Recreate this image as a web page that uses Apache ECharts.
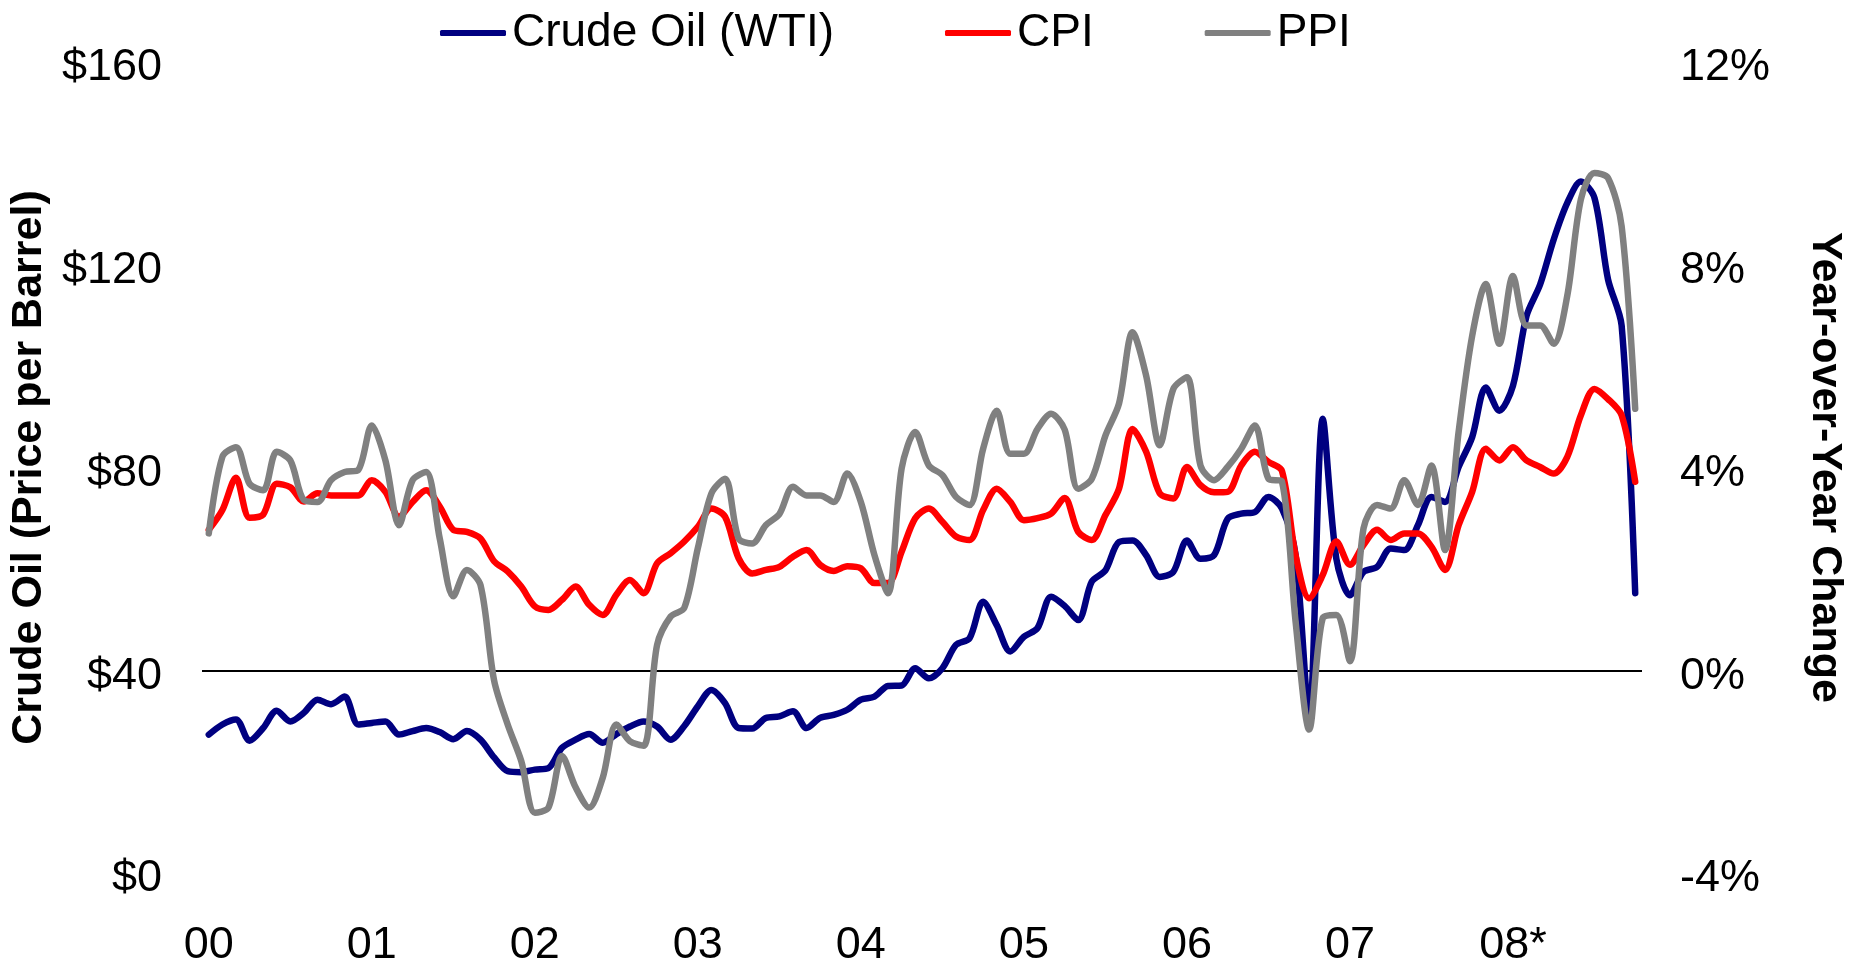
<!DOCTYPE html>
<html>
<head>
<meta charset="utf-8">
<title>Crude Oil vs CPI / PPI</title>
<script src="https://cdn.jsdelivr.net/npm/echarts@6/dist/echarts.min.js"></script>
<style>
    html, body { margin: 0; padding: 0; background: #fff; }
    #chart-id { width: 1854px; height: 968px; }
</style>
</head>
<body>
<div id="chart-id"></div>
<script>
// monthly, Jan 2000 .. Oct 2008
var yearLabels = ['00', '01', '02', '03', '04', '05', '06', '07', '08*'];

var wtiData = [27.3, 29.3, 30.3, 26.1, 28.6, 32.0, 29.9, 31.6, 34.2, 33.3, 34.8, 29.3,
    29.6, 29.9, 27.3, 28.0, 28.6, 27.8, 26.4, 28.0, 26.3, 22.8, 20.1, 19.9,
    20.4, 20.7, 24.7, 26.3, 27.4, 25.7, 27.4, 28.9, 29.9, 28.9, 26.3, 29.0,
    32.9, 36.1, 33.5, 28.6, 28.5, 30.6, 30.9, 31.9, 28.6, 30.6, 31.2, 32.2,
    34.2, 34.8, 36.9, 37.0, 40.4, 38.4, 40.4, 45.0, 46.3, 53.5, 48.9, 43.7,
    46.6, 48.3, 54.5, 52.7, 49.9, 57.5, 59.7, 65.3, 65.6, 62.7, 58.4, 59.4,
    65.6, 62.0, 62.7, 69.9, 70.9, 71.2, 74.2, 71.9, 62.7, 30.6, 89.6, 62.0,
    54.8, 59.4, 60.4, 64.0, 63.7, 68.6, 74.2, 73.2, 80.1, 86.0, 95.8, 91.2,
    96.1, 109.9, 116.1, 125.0, 132.2, 136.4, 133.2, 117.1, 108.0, 55.2];

var cpiData = [2.77, 3.16, 3.80, 3.01, 3.07, 3.68, 3.61, 3.33, 3.49, 3.45, 3.45, 3.45,
    3.75, 3.52, 3.03, 3.32, 3.55, 3.23, 2.77, 2.73, 2.60, 2.15, 1.95, 1.65,
    1.26, 1.19, 1.39, 1.65, 1.29, 1.09, 1.49, 1.78, 1.52, 2.11, 2.31, 2.54,
    2.83, 3.19, 3.03, 2.21, 1.91, 1.98, 2.04, 2.24, 2.37, 2.08, 1.96, 2.05,
    2.01, 1.72, 1.72, 2.34, 3.00, 3.19, 2.93, 2.64, 2.57, 3.16, 3.58, 3.32,
    2.96, 3.00, 3.09, 3.40, 2.73, 2.57, 3.06, 3.58, 4.76, 4.31, 3.49, 3.39,
    4.01, 3.65, 3.51, 3.52, 4.04, 4.31, 4.11, 3.93, 2.27, 1.42, 1.88, 2.54,
    2.08, 2.47, 2.77, 2.57, 2.70, 2.70, 2.44, 1.98, 2.86, 3.52, 4.37, 4.14,
    4.40, 4.14, 4.01, 3.88, 4.21, 5.03, 5.55, 5.35, 5.03, 3.72];

var ppiData = [2.70, 4.21, 4.40, 3.68, 3.55, 4.31, 4.14, 3.36, 3.32, 3.75, 3.91, 3.95,
    4.83, 4.14, 2.86, 3.75, 3.91, 2.60, 1.46, 1.98, 1.68, -0.20, -1.07, -1.79,
    -2.81, -2.71, -1.69, -2.31, -2.71, -2.12, -1.07, -1.40, -1.49, 0.50, 1.06, 1.23,
    2.41, 3.49, 3.78, 2.60, 2.50, 2.86, 3.08, 3.62, 3.45, 3.45, 3.32, 3.88,
    3.32, 2.27, 1.52, 3.98, 4.70, 4.04, 3.85, 3.42, 3.26, 4.37, 5.12, 4.27,
    4.27, 4.76, 5.06, 4.75, 3.58, 3.78, 4.63, 5.26, 6.67, 5.81, 4.44, 5.55,
    5.78, 4.04, 3.75, 4.01, 4.37, 4.83, 3.78, 3.72, 0.96, -1.17, 1.03, 1.09,
    0.18, 2.80, 3.26, 3.19, 3.75, 3.26, 4.04, 2.37, 4.70, 6.60, 7.62, 6.44,
    7.78, 6.80, 6.80, 6.44, 7.39, 9.29, 9.81, 9.71, 8.76, 5.16];

var months = [];
for (var i = 0; i < wtiData.length; i++) {
    var yr = 2000 + Math.floor(i / 12);
    var mo = (i % 12) + 1;
    months.push(yr + '-' + (mo < 10 ? '0' + mo : mo));
}

var FONT = 'Liberation Sans, Arial, sans-serif';

var dom = document.getElementById('chart-id');
var myChart = echarts.init(dom, null, { renderer: 'canvas' });
var option;

function lineSeries(name, data, color, axisIdx) {
    return {
        name: name,
        type: 'line',
        yAxisIndex: axisIdx,
        data: data,
        showSymbol: false,
        smooth: 0.3,
        color: color,
        lineStyle: { width: 6.5, color: color, cap: 'round', join: 'round' }
    };
}

var wtiSeries = lineSeries('Crude Oil (WTI)', wtiData, '#000080', 0);
// the 0% / $40 line
wtiSeries.markLine = {
    silent: true,
    z: 1,
    symbol: 'none',
    label: { show: false },
    lineStyle: { type: 'solid', color: '#000', width: 2 },
    data: [{ yAxis: 40 }]
};

// excel puts the value labels a few px under the tick
var yLabelBase = {
    fontSize: 45,
    color: '#000',
    fontFamily: FONT,
    verticalAlign: 'top',
    lineHeight: 12
};

option = {
    backgroundColor: '#fff',
    animation: false,
    textStyle: { fontFamily: FONT, color: '#000' },
    legend: {
        left: 435,
        top: 5,
        itemGap: 111,
        itemWidth: 66,
        itemHeight: 6,
        icon: 'roundRect',
        textStyle: { fontSize: 46, color: '#000', fontFamily: FONT, padding: [0, 0, 0, 1] },
        data: ['Crude Oil (WTI)', 'CPI', 'PPI']
    },
    grid: {
        left: 199,
        right: 209,
        top: 62,
        bottom: 92.5
    },
    xAxis: {
        type: 'category',
        data: months,
        boundaryGap: true,
        axisLine: { show: false },
        axisTick: { show: false },
        splitLine: { show: false },
        axisLabel: {
            interval: 11,
            margin: 50,
            fontSize: 45,
            color: '#000',
            fontFamily: FONT,
            formatter: function (value, index) {
                return yearLabels[Math.floor(index / 12)];
            }
        }
    },
    yAxis: [
        {
            type: 'value',
            min: 0,
            max: 160,
            interval: 40,
            name: 'Crude Oil (Price per Barrel)',
            nameLocation: 'middle',
            nameGap: 128,
            nameTextStyle: { fontSize: 43, fontWeight: 'bold', color: '#000', fontFamily: FONT },
            axisLine: { show: false },
            axisTick: { show: false },
            splitLine: { show: false },
            axisLabel: Object.assign({
                margin: 40,
                formatter: function (v) { return '$' + v; }
            }, yLabelBase)
        },
        {
            type: 'value',
            min: -4,
            max: 12,
            interval: 4,
            position: 'right',
            name: 'Year-over-Year Change',
            nameLocation: 'middle',
            nameRotate: -90,
            nameGap: 161,
            nameTextStyle: { fontSize: 43, fontWeight: 'bold', color: '#000', fontFamily: FONT },
            axisLine: { show: false },
            axisTick: { show: false },
            splitLine: { show: false },
            axisLabel: Object.assign({
                margin: 38,
                formatter: function (v) { return v + '%'; }
            }, yLabelBase)
        }
    ],
    series: [
        wtiSeries,
        lineSeries('CPI', cpiData, '#ff0000', 1),
        lineSeries('PPI', ppiData, '#808080', 1)
    ]
};

if (option && typeof option === 'object') {
    myChart.setOption(option);
}
</script>
</body>
</html>
